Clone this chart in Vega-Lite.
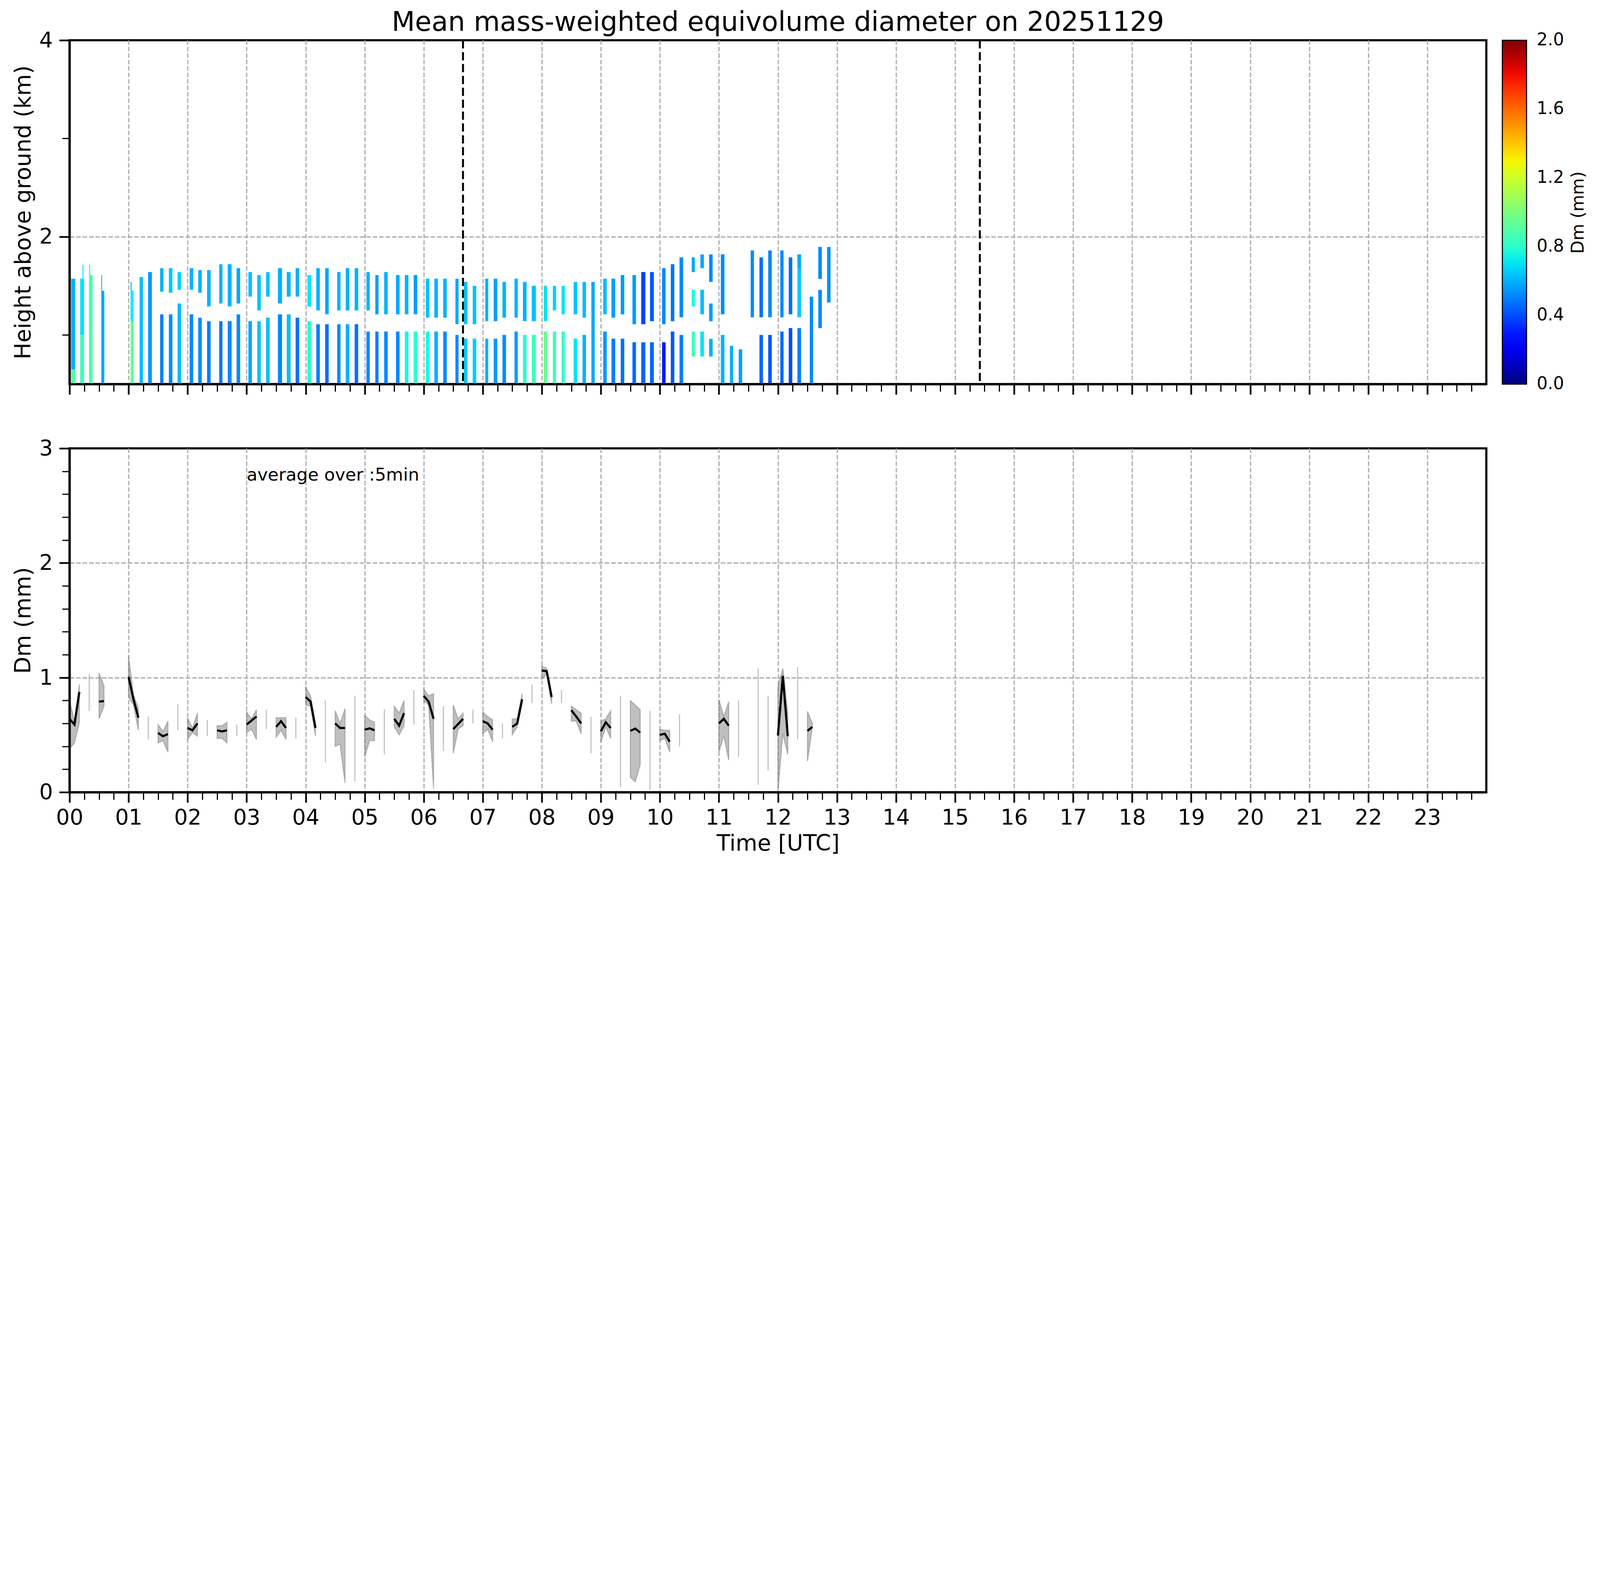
{
  "$schema": "https://vega.github.io/schema/vega-lite/v6.json",
  "background": "white",
  "padding": {"left": 28, "top": 21, "right": 11, "bottom": 11},
  "autosize": {"type": "pad"},
  "config": {
    "font": "DejaVu Sans",
    "view": {"stroke": "black", "strokeWidth": 5.5},
    "axis": {
      "domain": false,
      "tickColor": "black",
      "tickWidth": 4.4,
      "tickSize": 26.4,
      "gridColor": "#b0b0b0",
      "gridWidth": 3.3,
      "gridDash": [11.5, 5],
      "gridOpacity": 1,
      "labelFont": "DejaVu Sans",
      "labelFontSize": 55,
      "labelColor": "black",
      "titleFont": "DejaVu Sans",
      "titleFontSize": 57,
      "titleFontWeight": "normal",
      "titleColor": "black",
      "titlePadding": 11
    }
  },
  "datasets": {
    "hm": [
      {"a":0.028,"b":0.097,"lo":0.5,"hi":0.65,"dm":0.9},{"a":0.028,"b":0.097,"lo":0.65,"hi":1.573,"dm":0.6},
      {"a":0.18,"b":0.246,"lo":0.5,"hi":1.0,"dm":0.85},{"a":0.18,"b":0.246,"lo":1.0,"hi":1.573,"dm":0.7},{"a":0.22,"b":0.236,"lo":1.573,"hi":1.716,"dm":0.7},
      {"a":0.33,"b":0.39,"lo":0.5,"hi":1.61,"dm":0.88},{"a":0.33,"b":0.35,"lo":1.61,"hi":1.716,"dm":0.85},
      {"a":0.538,"b":0.589,"lo":0.5,"hi":1.45,"dm":0.58},{"a":0.538,"b":0.55,"lo":1.45,"hi":1.61,"dm":0.55},
      {"a":1.034,"b":1.085,"lo":0.5,"hi":1.14,"dm":0.95},{"a":1.034,"b":1.085,"lo":1.14,"hi":1.45,"dm":0.72},{"a":1.034,"b":1.05,"lo":1.45,"hi":1.54,"dm":0.62},
      {"a":1.187,"b":1.243,"lo":0.5,"hi":1.59,"dm":0.62},
      {"a":1.331,"b":1.395,"lo":0.5,"hi":1.64,"dm":0.55},
      {"a":1.535,"b":1.59,"lo":0.5,"hi":1.21,"dm":0.5},{"a":1.535,"b":1.59,"lo":1.44,"hi":1.68,"dm":0.6},
      {"a":1.683,"b":1.743,"lo":0.5,"hi":1.21,"dm":0.52},{"a":1.683,"b":1.743,"lo":1.43,"hi":1.68,"dm":0.64},
      {"a":1.83,"b":1.89,"lo":0.5,"hi":1.32,"dm":0.62},{"a":1.83,"b":1.89,"lo":1.46,"hi":1.64,"dm":0.66},
      {"a":2.035,"b":2.095,"lo":0.5,"hi":1.21,"dm":0.52},{"a":2.035,"b":2.095,"lo":1.46,"hi":1.68,"dm":0.6},
      {"a":2.18,"b":2.24,"lo":0.5,"hi":1.176,"dm":0.52},{"a":2.18,"b":2.24,"lo":1.43,"hi":1.66,"dm":0.6},
      {"a":2.33,"b":2.39,"lo":0.5,"hi":1.14,"dm":0.5},{"a":2.33,"b":2.39,"lo":1.29,"hi":1.66,"dm":0.6},
      {"a":2.536,"b":2.59,"lo":0.5,"hi":1.14,"dm":0.48},{"a":2.536,"b":2.59,"lo":1.32,"hi":1.72,"dm":0.6},
      {"a":2.68,"b":2.745,"lo":0.5,"hi":1.14,"dm":0.52},{"a":2.68,"b":2.745,"lo":1.29,"hi":1.72,"dm":0.6},
      {"a":2.83,"b":2.89,"lo":0.5,"hi":1.21,"dm":0.52},{"a":2.83,"b":2.89,"lo":1.32,"hi":1.68,"dm":0.58},
      {"a":3.03,"b":3.09,"lo":0.5,"hi":1.14,"dm":0.58},{"a":3.03,"b":3.09,"lo":1.39,"hi":1.64,"dm":0.63},
      {"a":3.18,"b":3.24,"lo":0.5,"hi":1.14,"dm":0.63},{"a":3.18,"b":3.24,"lo":1.25,"hi":1.61,"dm":0.63},
      {"a":3.33,"b":3.39,"lo":0.5,"hi":1.176,"dm":0.62},{"a":3.33,"b":3.39,"lo":1.39,"hi":1.64,"dm":0.63},
      {"a":3.53,"b":3.6,"lo":0.5,"hi":1.21,"dm":0.52},{"a":3.53,"b":3.6,"lo":1.32,"hi":1.68,"dm":0.6},
      {"a":3.68,"b":3.745,"lo":0.5,"hi":1.21,"dm":0.62},{"a":3.68,"b":3.745,"lo":1.39,"hi":1.64,"dm":0.6},
      {"a":3.83,"b":3.89,"lo":0.5,"hi":1.176,"dm":0.47},{"a":3.83,"b":3.89,"lo":1.39,"hi":1.68,"dm":0.6},
      {"a":4.03,"b":4.094,"lo":0.5,"hi":1.14,"dm":0.8},{"a":4.03,"b":4.094,"lo":1.29,"hi":1.61,"dm":0.7},
      {"a":4.18,"b":4.24,"lo":0.5,"hi":1.11,"dm":0.5},{"a":4.18,"b":4.24,"lo":1.25,"hi":1.68,"dm":0.6},
      {"a":4.33,"b":4.39,"lo":0.5,"hi":1.11,"dm":0.47},{"a":4.33,"b":4.39,"lo":1.21,"hi":1.68,"dm":0.58},
      {"a":4.534,"b":4.59,"lo":0.5,"hi":1.11,"dm":0.52},{"a":4.534,"b":4.59,"lo":1.25,"hi":1.64,"dm":0.6},
      {"a":4.68,"b":4.74,"lo":0.5,"hi":1.11,"dm":0.6},{"a":4.68,"b":4.74,"lo":1.25,"hi":1.68,"dm":0.6},
      {"a":4.83,"b":4.89,"lo":0.5,"hi":1.11,"dm":0.47},{"a":4.83,"b":4.89,"lo":1.25,"hi":1.68,"dm":0.6},
      {"a":5.03,"b":5.086,"lo":0.5,"hi":1.035,"dm":0.52},{"a":5.03,"b":5.086,"lo":1.25,"hi":1.64,"dm":0.6},
      {"a":5.18,"b":5.234,"lo":0.5,"hi":1.035,"dm":0.5},{"a":5.18,"b":5.234,"lo":1.21,"hi":1.61,"dm":0.56},
      {"a":5.33,"b":5.39,"lo":0.5,"hi":1.035,"dm":0.52},{"a":5.33,"b":5.39,"lo":1.21,"hi":1.64,"dm":0.6},
      {"a":5.53,"b":5.59,"lo":0.5,"hi":1.035,"dm":0.52},{"a":5.53,"b":5.59,"lo":1.21,"hi":1.61,"dm":0.58},
      {"a":5.68,"b":5.74,"lo":0.5,"hi":1.035,"dm":0.74},{"a":5.68,"b":5.74,"lo":1.21,"hi":1.61,"dm":0.6},
      {"a":5.83,"b":5.89,"lo":0.5,"hi":1.035,"dm":0.8},{"a":5.83,"b":5.89,"lo":1.21,"hi":1.61,"dm":0.56},
      {"a":6.036,"b":6.096,"lo":0.5,"hi":1.035,"dm":0.75},{"a":6.036,"b":6.096,"lo":1.176,"hi":1.573,"dm":0.63},
      {"a":6.18,"b":6.24,"lo":0.5,"hi":1.035,"dm":0.6},{"a":6.18,"b":6.24,"lo":1.176,"hi":1.573,"dm":0.6},
      {"a":6.33,"b":6.39,"lo":0.5,"hi":1.035,"dm":0.52},{"a":6.33,"b":6.39,"lo":1.176,"hi":1.573,"dm":0.6},
      {"a":6.537,"b":6.59,"lo":0.5,"hi":1.0,"dm":0.52},{"a":6.537,"b":6.59,"lo":1.11,"hi":1.573,"dm":0.58},
      {"a":6.68,"b":6.74,"lo":0.5,"hi":0.962,"dm":0.65},{"a":6.68,"b":6.74,"lo":1.11,"hi":1.54,"dm":0.63},
      {"a":6.83,"b":6.89,"lo":0.5,"hi":0.962,"dm":0.65},{"a":6.83,"b":6.89,"lo":1.11,"hi":1.5,"dm":0.63},
      {"a":7.042,"b":7.093,"lo":0.5,"hi":0.962,"dm":0.6},{"a":7.042,"b":7.093,"lo":1.14,"hi":1.573,"dm":0.6},
      {"a":7.185,"b":7.246,"lo":0.5,"hi":0.962,"dm":0.55},{"a":7.185,"b":7.246,"lo":1.14,"hi":1.573,"dm":0.56},
      {"a":7.334,"b":7.394,"lo":0.5,"hi":1.0,"dm":0.52},{"a":7.334,"b":7.394,"lo":1.176,"hi":1.54,"dm":0.6},
      {"a":7.538,"b":7.593,"lo":0.5,"hi":1.035,"dm":0.55},{"a":7.538,"b":7.593,"lo":1.176,"hi":1.573,"dm":0.6},
      {"a":7.68,"b":7.742,"lo":0.5,"hi":1.0,"dm":0.8},{"a":7.68,"b":7.742,"lo":1.14,"hi":1.54,"dm":0.6},
      {"a":7.83,"b":7.9,"lo":0.5,"hi":1.0,"dm":0.85},{"a":7.83,"b":7.9,"lo":1.14,"hi":1.5,"dm":0.63},
      {"a":8.034,"b":8.09,"lo":0.5,"hi":1.035,"dm":0.95},{"a":8.034,"b":8.09,"lo":1.14,"hi":1.5,"dm":0.7},
      {"a":8.187,"b":8.242,"lo":0.5,"hi":1.035,"dm":0.85},{"a":8.187,"b":8.242,"lo":1.25,"hi":1.5,"dm":0.66},
      {"a":8.335,"b":8.39,"lo":0.5,"hi":1.035,"dm":0.82},{"a":8.335,"b":8.39,"lo":1.21,"hi":1.5,"dm":0.7},
      {"a":8.54,"b":8.6,"lo":0.5,"hi":0.962,"dm":0.7},{"a":8.54,"b":8.6,"lo":1.21,"hi":1.54,"dm":0.63},
      {"a":8.69,"b":8.748,"lo":0.5,"hi":1.0,"dm":0.6},{"a":8.69,"b":8.748,"lo":1.176,"hi":1.54,"dm":0.62},
      {"a":8.84,"b":8.896,"lo":0.5,"hi":1.54,"dm":0.58},
      {"a":9.04,"b":9.1,"lo":0.5,"hi":1.035,"dm":0.55},{"a":9.04,"b":9.1,"lo":1.21,"hi":1.573,"dm":0.62},
      {"a":9.18,"b":9.244,"lo":0.5,"hi":0.962,"dm":0.5},{"a":9.18,"b":9.244,"lo":1.176,"hi":1.573,"dm":0.56},
      {"a":9.337,"b":9.397,"lo":0.5,"hi":0.962,"dm":0.47},{"a":9.337,"b":9.397,"lo":1.21,"hi":1.61,"dm":0.55},
      {"a":9.536,"b":9.596,"lo":0.5,"hi":0.926,"dm":0.46},{"a":9.536,"b":9.596,"lo":1.11,"hi":1.61,"dm":0.55},
      {"a":9.684,"b":9.754,"lo":0.5,"hi":0.926,"dm":0.45},{"a":9.684,"b":9.754,"lo":1.11,"hi":1.64,"dm":0.38},
      {"a":9.833,"b":9.898,"lo":0.5,"hi":0.926,"dm":0.45},{"a":9.833,"b":9.898,"lo":1.14,"hi":1.64,"dm":0.42},
      {"a":10.037,"b":10.097,"lo":0.5,"hi":0.926,"dm":0.3},{"a":10.037,"b":10.097,"lo":1.11,"hi":1.68,"dm":0.52},
      {"a":10.185,"b":10.245,"lo":0.5,"hi":1.035,"dm":0.42},{"a":10.185,"b":10.245,"lo":1.14,"hi":1.72,"dm":0.47},
      {"a":10.333,"b":10.394,"lo":0.5,"hi":1.0,"dm":0.5},{"a":10.333,"b":10.394,"lo":1.18,"hi":1.79,"dm":0.52},
      {"a":10.54,"b":10.593,"lo":0.78,"hi":1.035,"dm":0.85},{"a":10.54,"b":10.593,"lo":1.29,"hi":1.46,"dm":0.75},{"a":10.54,"b":10.593,"lo":1.64,"hi":1.79,"dm":0.58},
      {"a":10.686,"b":10.746,"lo":0.78,"hi":1.035,"dm":0.7},{"a":10.686,"b":10.746,"lo":1.21,"hi":1.46,"dm":0.62},{"a":10.686,"b":10.746,"lo":1.68,"hi":1.82,"dm":0.58},
      {"a":10.834,"b":10.894,"lo":0.78,"hi":0.96,"dm":0.6},{"a":10.834,"b":10.894,"lo":1.14,"hi":1.32,"dm":0.56},{"a":10.834,"b":10.894,"lo":1.54,"hi":1.82,"dm":0.52},
      {"a":11.033,"b":11.094,"lo":0.5,"hi":1.0,"dm":0.6},{"a":11.033,"b":11.094,"lo":1.21,"hi":1.82,"dm":0.52},
      {"a":11.186,"b":11.242,"lo":0.5,"hi":0.89,"dm":0.6},
      {"a":11.335,"b":11.395,"lo":0.5,"hi":0.853,"dm":0.56},
      {"a":11.538,"b":11.594,"lo":1.18,"hi":1.86,"dm":0.52},
      {"a":11.687,"b":11.747,"lo":0.5,"hi":1.0,"dm":0.45},{"a":11.687,"b":11.747,"lo":1.18,"hi":1.79,"dm":0.47},
      {"a":11.835,"b":11.896,"lo":0.5,"hi":1.0,"dm":0.42},{"a":11.835,"b":11.896,"lo":1.18,"hi":1.86,"dm":0.52},
      {"a":12.04,"b":12.095,"lo":0.5,"hi":1.035,"dm":0.45},{"a":12.04,"b":12.095,"lo":1.18,"hi":1.86,"dm":0.52},
      {"a":12.183,"b":12.243,"lo":0.5,"hi":1.07,"dm":0.4},{"a":12.183,"b":12.243,"lo":1.21,"hi":1.79,"dm":0.47},
      {"a":12.33,"b":12.392,"lo":0.5,"hi":1.07,"dm":0.5},{"a":12.33,"b":12.392,"lo":1.18,"hi":1.68,"dm":0.64},{"a":12.33,"b":12.392,"lo":1.68,"hi":1.82,"dm":0.58},
      {"a":12.54,"b":12.596,"lo":0.5,"hi":1.39,"dm":0.52},
      {"a":12.684,"b":12.744,"lo":1.07,"hi":1.46,"dm":0.52},{"a":12.684,"b":12.744,"lo":1.57,"hi":1.896,"dm":0.52},
      {"a":12.832,"b":12.892,"lo":1.33,"hi":1.896,"dm":0.54}
    ],
    "sun": [{"t": 6.665}, {"t": 15.42}],
    "dmv": [
      {"t":0,"s":1,"m":0.64,"lo":0.38,"hi":0.8},{"t":0.0833,"s":1,"m":0.59,"lo":0.43,"hi":0.62},{"t":0.1667,"s":1,"m":0.875,"lo":0.61,"hi":0.94},
      {"t":0.3333,"s":2,"m":null,"lo":0.71,"hi":1.03},
      {"t":0.5,"s":3,"m":0.79,"lo":0.64,"hi":1.04},{"t":0.5833,"s":3,"m":0.795,"lo":0.75,"hi":0.93},
      {"t":1,"s":4,"m":1.007,"lo":0.83,"hi":1.19},{"t":1.0833,"s":4,"m":0.81,"lo":0.76,"hi":0.85},{"t":1.1667,"s":4,"m":0.65,"lo":0.54,"hi":0.73},
      {"t":1.3333,"s":5,"m":null,"lo":0.46,"hi":0.66},
      {"t":1.5,"s":6,"m":0.517,"lo":0.43,"hi":0.59},{"t":1.5833,"s":6,"m":0.488,"lo":0.45,"hi":0.53},{"t":1.6667,"s":6,"m":0.507,"lo":0.35,"hi":0.62},
      {"t":1.8333,"s":7,"m":null,"lo":0.54,"hi":0.77},
      {"t":2,"s":8,"m":0.56,"lo":0.46,"hi":0.65},{"t":2.0833,"s":8,"m":0.54,"lo":0.52,"hi":0.56},{"t":2.1667,"s":8,"m":0.6,"lo":0.49,"hi":0.69},
      {"t":2.3333,"s":9,"m":null,"lo":0.49,"hi":0.63},
      {"t":2.5,"s":10,"m":0.54,"lo":0.47,"hi":0.58},{"t":2.5833,"s":10,"m":0.53,"lo":0.47,"hi":0.58},{"t":2.6667,"s":10,"m":0.54,"lo":0.43,"hi":0.61},
      {"t":2.8333,"s":11,"m":null,"lo":0.49,"hi":0.59},
      {"t":3,"s":12,"m":0.59,"lo":0.52,"hi":0.7},{"t":3.0833,"s":12,"m":0.625,"lo":0.55,"hi":0.64},{"t":3.1667,"s":12,"m":0.66,"lo":0.46,"hi":0.72},
      {"t":3.3333,"s":13,"m":null,"lo":0.55,"hi":0.72},
      {"t":3.5,"s":14,"m":0.57,"lo":0.48,"hi":0.65},{"t":3.5833,"s":14,"m":0.62,"lo":0.54,"hi":0.65},{"t":3.6667,"s":14,"m":0.56,"lo":0.46,"hi":0.65},
      {"t":3.8333,"s":15,"m":null,"lo":0.47,"hi":0.65},
      {"t":4,"s":16,"m":0.83,"lo":0.76,"hi":0.92},{"t":4.0833,"s":16,"m":0.79,"lo":0.75,"hi":0.84},{"t":4.1667,"s":16,"m":0.56,"lo":0.49,"hi":0.58},
      {"t":4.3333,"s":17,"m":null,"lo":0.26,"hi":0.8},
      {"t":4.5,"s":18,"m":0.6,"lo":0.4,"hi":0.71},{"t":4.5833,"s":18,"m":0.56,"lo":0.42,"hi":0.6},{"t":4.6667,"s":18,"m":0.56,"lo":0.08,"hi":0.73},
      {"t":4.8333,"s":19,"m":null,"lo":0.095,"hi":0.84},
      {"t":5,"s":20,"m":0.545,"lo":0.31,"hi":0.67},{"t":5.0833,"s":20,"m":0.557,"lo":0.45,"hi":0.63},{"t":5.1667,"s":20,"m":0.54,"lo":0.45,"hi":0.61},
      {"t":5.3333,"s":21,"m":null,"lo":0.33,"hi":0.725},
      {"t":5.5,"s":22,"m":0.64,"lo":0.57,"hi":0.75},{"t":5.5833,"s":22,"m":0.58,"lo":0.5,"hi":0.69},{"t":5.6667,"s":22,"m":0.69,"lo":0.58,"hi":0.8},
      {"t":5.8333,"s":23,"m":null,"lo":0.59,"hi":0.89},
      {"t":6,"s":24,"m":0.84,"lo":0.8,"hi":0.9},{"t":6.0833,"s":24,"m":0.79,"lo":0.76,"hi":0.84},{"t":6.1667,"s":24,"m":0.64,"lo":0.03,"hi":0.86},
      {"t":6.3333,"s":25,"m":null,"lo":0.36,"hi":0.75},
      {"t":6.5,"s":26,"m":0.55,"lo":0.34,"hi":0.76},{"t":6.5833,"s":26,"m":0.595,"lo":0.55,"hi":0.64},{"t":6.6667,"s":26,"m":0.64,"lo":0.58,"hi":0.69},
      {"t":6.8333,"s":27,"m":null,"lo":0.6,"hi":0.72},
      {"t":7,"s":28,"m":0.62,"lo":0.51,"hi":0.7},{"t":7.0833,"s":28,"m":0.6,"lo":0.55,"hi":0.66},{"t":7.1667,"s":28,"m":0.545,"lo":0.44,"hi":0.63},
      {"t":7.3333,"s":29,"m":null,"lo":0.47,"hi":0.6},
      {"t":7.5,"s":30,"m":0.57,"lo":0.5,"hi":0.64},{"t":7.5833,"s":30,"m":0.6,"lo":0.57,"hi":0.64},{"t":7.6667,"s":30,"m":0.81,"lo":0.78,"hi":0.86},
      {"t":7.8333,"s":31,"m":null,"lo":0.78,"hi":0.94},
      {"t":8,"s":32,"m":1.061,"lo":0.985,"hi":1.1},{"t":8.0833,"s":32,"m":1.056,"lo":1.03,"hi":1.08},{"t":8.1667,"s":32,"m":0.83,"lo":0.77,"hi":0.86},
      {"t":8.3333,"s":33,"m":null,"lo":0.78,"hi":0.89},
      {"t":8.5,"s":34,"m":0.715,"lo":0.62,"hi":0.75},{"t":8.5833,"s":34,"m":0.66,"lo":0.62,"hi":0.72},{"t":8.6667,"s":34,"m":0.6,"lo":0.51,"hi":0.69},
      {"t":8.8333,"s":35,"m":null,"lo":0.34,"hi":0.66},
      {"t":9,"s":36,"m":0.53,"lo":0.435,"hi":0.62},{"t":9.0833,"s":36,"m":0.61,"lo":0.57,"hi":0.64},{"t":9.1667,"s":36,"m":0.56,"lo":0.47,"hi":0.71},
      {"t":9.3333,"s":37,"m":null,"lo":0.046,"hi":0.84},
      {"t":9.5,"s":38,"m":0.535,"lo":0.13,"hi":0.8},{"t":9.5833,"s":38,"m":0.555,"lo":0.09,"hi":0.76},{"t":9.6667,"s":38,"m":0.52,"lo":0.24,"hi":0.72},
      {"t":9.8333,"s":39,"m":null,"lo":0.02,"hi":0.71},
      {"t":10,"s":40,"m":0.5,"lo":0.45,"hi":0.55},{"t":10.0833,"s":40,"m":0.51,"lo":0.47,"hi":0.54},{"t":10.1667,"s":40,"m":0.44,"lo":0.35,"hi":0.54},
      {"t":10.3333,"s":41,"m":null,"lo":0.4,"hi":0.68},
      {"t":11,"s":42,"m":0.6,"lo":0.35,"hi":0.81},{"t":11.0833,"s":42,"m":0.64,"lo":0.49,"hi":0.66},{"t":11.1667,"s":42,"m":0.58,"lo":0.28,"hi":0.79},
      {"t":11.3333,"s":43,"m":null,"lo":0.31,"hi":0.8},
      {"t":11.6667,"s":44,"m":null,"lo":0.064,"hi":1.08},
      {"t":11.8333,"s":45,"m":null,"lo":0.19,"hi":0.84},
      {"t":12,"s":46,"m":0.494,"lo":0.01,"hi":0.92},{"t":12.0833,"s":46,"m":1.015,"lo":0.51,"hi":1.08},{"t":12.1667,"s":46,"m":0.488,"lo":0.33,"hi":0.69},
      {"t":12.3333,"s":47,"m":null,"lo":0.46,"hi":1.09},
      {"t":12.5,"s":48,"m":0.535,"lo":0.27,"hi":0.705},{"t":12.5833,"s":48,"m":0.57,"lo":0.57,"hi":0.6}
    ],
    "note": [{"t": 3.0, "y": 2.72, "label": "average over :5min"}]
  },
  "vconcat": [
    {
      "width": 3627,
      "height": 880,
      "title": {"text": "Mean mass-weighted equivolume diameter on 20251129", "font": "DejaVu Sans", "fontSize": 69, "fontWeight": "normal", "color": "black", "offset": -17, "anchor": "middle", "frame": "group"},
      "layer": [
        {
          "data": {"name": "hm"},
          "mark": {"type": "rect", "strokeWidth": 0},
          "encoding": {
            "x": {"field": "a", "type": "quantitative", "scale": {"domain": [0, 24], "nice": false, "zero": false},
                  "axis": {"orient": "bottom", "values": [0,1,2,3,4,5,6,7,8,9,10,11,12,13,14,15,16,17,18,19,20,21,22,23], "labels": false, "title": null, "grid": true}},
            "x2": {"field": "b"},
            "y": {"field": "lo", "type": "quantitative", "scale": {"domain": [0.5, 4], "nice": false, "zero": false},
                  "axis": {"orient": "left", "values": [2, 4], "title": "Height above ground (km)", "grid": false, "labelPadding": 16.5}},
            "y2": {"field": "hi"},
            "color": {
              "field": "dm", "type": "quantitative",
              "scale": {"type": "linear", "domain": [0, 0.22, 0.25, 0.68, 0.7, 0.75, 1.28, 1.3, 1.32, 1.78, 1.82, 2],
                        "range": ["#000080", "#0000ff", "#0000ff", "#00dbff", "#00e5f7", "#14ffe2", "#eeff08", "#f7f500", "#ffec00", "#ff1300", "#e80000", "#800000"],
                        "interpolate": "rgb", "clamp": true},
              "legend": {
                "title": "Dm (mm)", "orient": "right", "offset": 41, "direction": "vertical",
                "gradientLength": 880, "gradientThickness": 62, "gradientStrokeColor": "black", "gradientStrokeWidth": 2.75,
                "values": [0, 0.4, 0.8, 1.2, 1.6, 2], "format": ".1f",
                "labelFont": "DejaVu Sans", "labelFontSize": 44, "labelColor": "black", "labelOffset": 26, "labelBaseline": "middle", "labelOverlap": false,
                "titleOrient": "right", "titleFont": "DejaVu Sans", "titleFontSize": 44, "titleFontWeight": "normal", "titleColor": "black", "titlePadding": 37, "titleAnchor": "middle", "titleLimit": 2000,
                "titleAlign": "center", "titleBaseline": "middle",
                "encode": {
                  "title": {"update": {"angle": {"value": -90}, "align": {"value": "center"}, "baseline": {"value": "middle"}}},
                  "labels": {"update": {"baseline": {"value": "middle"}}}
                }
              }
            }
          }
        },
        {
          "data": {"name": "sun"},
          "mark": {"type": "rule", "color": "black", "strokeWidth": 5, "strokeDash": [21, 9.4]},
          "encoding": {"x": {"field": "t", "type": "quantitative", "axis": null}}
        },
        {
          "data": {"name": "hm"},
          "mark": {"type": "point", "opacity": 0},
          "encoding": {
            "x": {"field": "a", "type": "quantitative", "axis": null},
            "y": {"field": "lo", "type": "quantitative",
                  "axis": {"orient": "left", "values": [2], "labels": false, "title": null, "grid": true, "ticks": false, "domain": false}}
          }
        },
        {
          "data": {"name": "hm"},
          "mark": {"type": "point", "opacity": 0},
          "encoding": {
            "x": {"field": "a", "type": "quantitative",
                  "axis": {"orient": "bottom", "values": [0.25,0.5,0.75,1.25,1.5,1.75,2.25,2.5,2.75,3.25,3.5,3.75,4.25,4.5,4.75,5.25,5.5,5.75,6.25,6.5,6.75,7.25,7.5,7.75,8.25,8.5,8.75,9.25,9.5,9.75,10.25,10.5,10.75,11.25,11.5,11.75,12.25,12.5,12.75,13.25,13.5,13.75,14.25,14.5,14.75,15.25,15.5,15.75,16.25,16.5,16.75,17.25,17.5,17.75,18.25,18.5,18.75,19.25,19.5,19.75,20.25,20.5,20.75,21.25,21.5,21.75,22.25,22.5,22.75,23.25,23.5,23.75],
                           "labels": false, "title": null, "grid": false, "tickSize": 19, "tickWidth": 3, "domain": true, "domainColor": "black", "domainWidth": 5.5, "zindex": 1}},
            "y": {"field": "lo", "type": "quantitative",
                  "axis": {"orient": "left", "values": [1, 3], "labels": false, "title": null, "grid": false, "tickSize": 19, "tickWidth": 3, "domain": true, "domainColor": "black", "domainWidth": 5.5, "zindex": 1}}
          }
        }
      ],
      "resolve": {"axis": {"x": "independent", "y": "independent"}}
    },
    {
      "width": 3627,
      "height": 880,
      "layer": [
        {
          "data": {"name": "dmv"},
          "mark": {"type": "area", "fill": "#808080", "fillOpacity": 0.5, "stroke": "#808080", "strokeOpacity": 0.5, "strokeWidth": 2.75, "interpolate": "linear"},
          "encoding": {
            "x": {"field": "t", "type": "quantitative", "scale": {"domain": [0, 24], "nice": false, "zero": false},
                  "axis": {"orient": "bottom", "values": [0,1,2,3,4,5,6,7,8,9,10,11,12,13,14,15,16,17,18,19,20,21,22,23], "labelExpr": "datum.value < 10 ? '0' + datum.value : '' + datum.value", "title": "Time [UTC]", "grid": true, "labelPadding": 13, "labelFlush": false, "labelOverlap": false}},
            "y": {"field": "lo", "type": "quantitative", "scale": {"domain": [0, 3], "nice": false, "zero": false},
                  "axis": {"orient": "left", "values": [0, 1, 2, 3], "title": "Dm (mm)", "grid": false, "labelPadding": 16.5, "labelFlush": false}},
            "y2": {"field": "hi"},
            "detail": {"field": "s", "type": "nominal"}
          }
        },
        {
          "data": {"name": "dmv"},
          "mark": {"type": "line", "color": "black", "strokeWidth": 5.5},
          "encoding": {
            "x": {"field": "t", "type": "quantitative", "axis": null},
            "y": {"field": "m", "type": "quantitative", "axis": null},
            "detail": {"field": "s", "type": "nominal"}
          }
        },
        {
          "data": {"name": "note"},
          "mark": {"type": "text", "align": "left", "baseline": "alphabetic", "font": "DejaVu Sans", "fontSize": 45, "color": "black"},
          "encoding": {
            "x": {"field": "t", "type": "quantitative", "axis": null},
            "y": {"field": "y", "type": "quantitative", "axis": null},
            "text": {"field": "label"}
          }
        },
        {
          "data": {"name": "dmv"},
          "mark": {"type": "point", "opacity": 0},
          "encoding": {
            "x": {"field": "t", "type": "quantitative", "axis": null},
            "y": {"field": "lo", "type": "quantitative",
                  "axis": {"orient": "left", "values": [1, 2], "labels": false, "title": null, "grid": true, "ticks": false, "domain": false}}
          }
        },
        {
          "data": {"name": "dmv"},
          "mark": {"type": "point", "opacity": 0},
          "encoding": {
            "x": {"field": "t", "type": "quantitative",
                  "axis": {"orient": "bottom", "values": [0.25,0.5,0.75,1.25,1.5,1.75,2.25,2.5,2.75,3.25,3.5,3.75,4.25,4.5,4.75,5.25,5.5,5.75,6.25,6.5,6.75,7.25,7.5,7.75,8.25,8.5,8.75,9.25,9.5,9.75,10.25,10.5,10.75,11.25,11.5,11.75,12.25,12.5,12.75,13.25,13.5,13.75,14.25,14.5,14.75,15.25,15.5,15.75,16.25,16.5,16.75,17.25,17.5,17.75,18.25,18.5,18.75,19.25,19.5,19.75,20.25,20.5,20.75,21.25,21.5,21.75,22.25,22.5,22.75,23.25,23.5,23.75],
                           "labels": false, "title": null, "grid": false, "tickSize": 19, "tickWidth": 3, "domain": true, "domainColor": "black", "domainWidth": 5.5, "zindex": 1}},
            "y": {"field": "lo", "type": "quantitative",
                  "axis": {"orient": "left", "values": [0.2,0.4,0.6,0.8,1.2,1.4,1.6,1.8,2.2,2.4,2.6,2.8], "labels": false, "title": null, "grid": false, "tickSize": 19, "tickWidth": 3, "domain": true, "domainColor": "black", "domainWidth": 5.5, "zindex": 1}}
          }
        }
      ],
      "resolve": {"axis": {"x": "independent", "y": "independent"}}
    }
  ],
  "spacing": 164.5,
  "bounds": "flush",
  "resolve": {"legend": {"color": "independent"}}
}
